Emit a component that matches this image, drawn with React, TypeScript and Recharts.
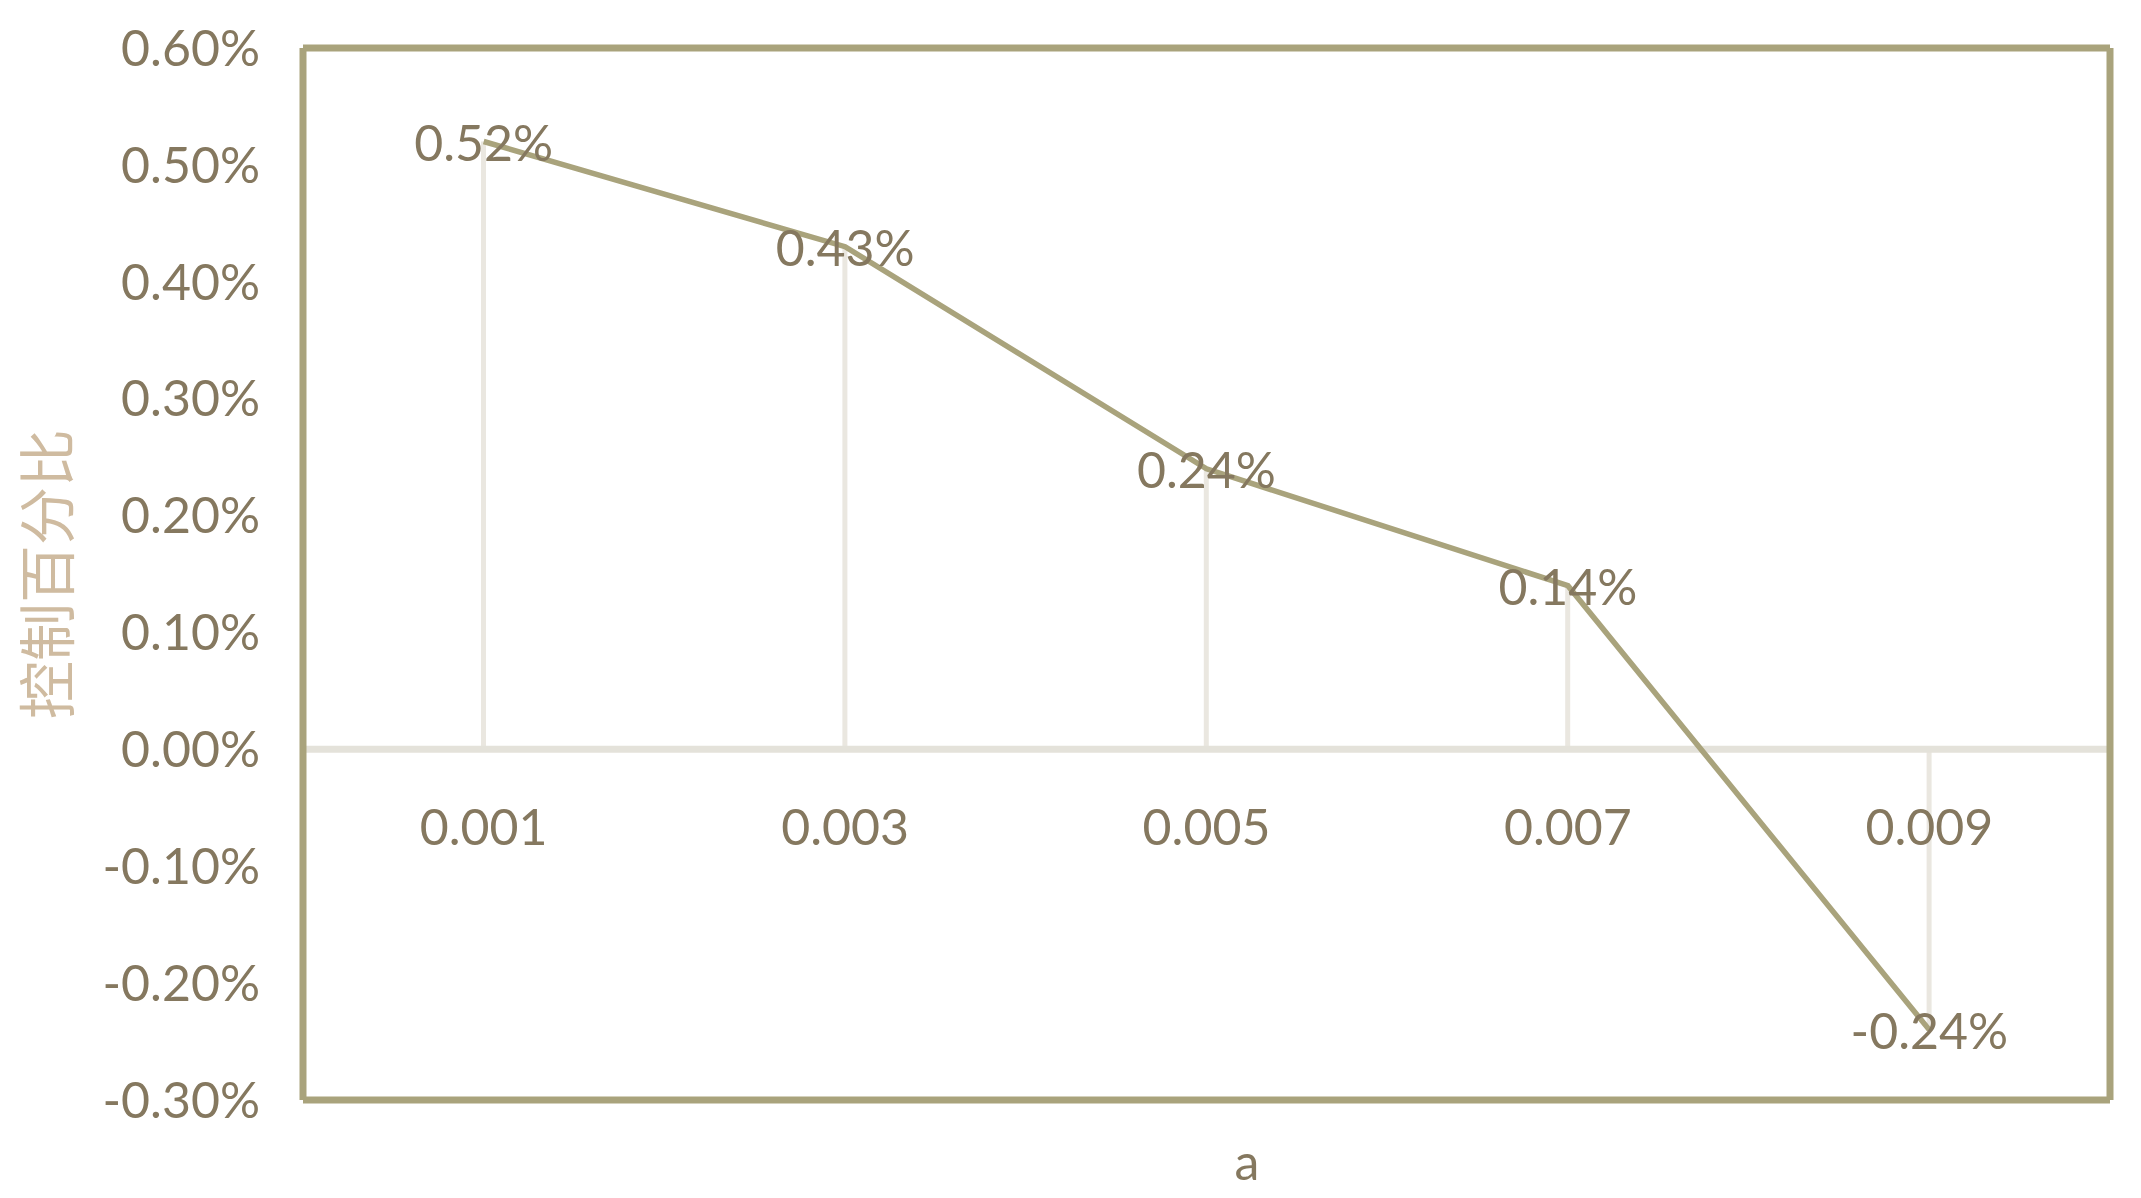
import React from "react";
import {
  ComposedChart,
  Line,
  Bar,
  XAxis,
  YAxis,
  ReferenceLine,
  LabelList,
} from "recharts";

const categories = ["0.001", "0.003", "0.005", "0.007", "0.009"];
const controlPct = [0.52, 0.43, 0.24, 0.14, -0.24];
const yTicks = [-0.3, -0.2, -0.1, 0, 0.1, 0.2, 0.3, 0.4, 0.5, 0.6];
const yDomain: [number, number] = [-0.3, 0.6];

const data = categories.map((a, i) => ({ a, v: controlPct[i] }));

const W = 2141;
const H = 1198;
// plot area: left 303, right 2110, top 48, bottom 1100 (axes take 1px each)
const margin = { top: 47, right: 30, bottom: 97, left: 0 };
const plotTop = 48;
const plotH = 1100 - plotTop;
const zeroY =
  plotTop + (plotH * (yDomain[1] - 0)) / (yDomain[1] - yDomain[0]);

const frame = "#a9a37c";
const textCol = "#85785f";
const font = "Lato, 'Noto Sans', sans-serif";
const fs = 50;

const XTick = (props: any) => {
  const { x, payload } = props;
  return (
    <text
      x={x}
      y={zeroY + 77}
      textAnchor="middle"
      dominantBaseline="central"
      fill={textCol}
      fontSize={fs}
      fontFamily={font}
    >
      {payload.value}
    </text>
  );
};

const PointLabel = (props: any) => {
  const { x, y, value } = props;
  return (
    <text
      x={x}
      y={y}
      textAnchor="middle"
      dominantBaseline="central"
      fill={textCol}
      fontSize={fs}
      fontFamily={font}
    >
      {`${Number(value).toFixed(2)}%`}
    </text>
  );
};

export default function App() {
  return (
    <div style={{ position: "absolute", left: 0, top: 0, width: W, height: H, background: "#fff" }}>
      <ComposedChart width={W} height={H} data={data} margin={margin}>
        <XAxis
          dataKey="a"
          height={1}
          axisLine={{ stroke: frame, strokeWidth: 7 }}
          tickLine={false}
          tick={<XTick />}
          interval={0}
          label={() => (
            <text
              x={1247}
              y={1161}
              textAnchor="middle"
              dominantBaseline="central"
              fill={textCol}
              fontSize={fs}
              fontFamily={font}
            >
              a
            </text>
          )}
        />
        <XAxis
          xAxisId="top"
          dataKey="a"
          orientation="top"
          height={1}
          axisLine={{ stroke: frame, strokeWidth: 7 }}
          tickLine={false}
          tick={false}
        />
        <YAxis
          width={303}
          domain={yDomain}
          ticks={yTicks}
          allowDataOverflow
          axisLine={{ stroke: frame, strokeWidth: 7 }}
          tickLine={false}
          tickSize={0}
          tickMargin={43}
          tickFormatter={(v: number) => `${v.toFixed(2)}%`}
          tick={{ fill: textCol, fontSize: fs, fontFamily: font }}
          label={({ viewBox }: any) => {
            const cy = viewBox.y + viewBox.height / 2;
            return (
              <text
                x={44}
                y={cy}
                transform={`rotate(-90, 44, ${cy})`}
                textAnchor="middle"
                dominantBaseline="central"
                fill="#cfbba0"
                fontSize={58}
                fontFamily="'Noto Sans CJK SC', sans-serif"
              >
                控制百分比
              </text>
            );
          }}
        />
        <YAxis
          yAxisId="right"
          orientation="right"
          width={1}
          domain={yDomain}
          axisLine={{ stroke: frame, strokeWidth: 7 }}
          tickLine={false}
          tick={false}
        />
        <ReferenceLine y={0} stroke="#e4e2da" strokeWidth={7} />
        <Bar dataKey="v" barSize={5} fill="#eae7e0" isAnimationActive={false} />
        <Line
          type="linear"
          dataKey="v"
          stroke={frame}
          strokeWidth={5.5}
          dot={false}
          activeDot={false}
          isAnimationActive={false}
        >
          <LabelList dataKey="v" content={<PointLabel />} />
        </Line>
      </ComposedChart>
    </div>
  );
}
